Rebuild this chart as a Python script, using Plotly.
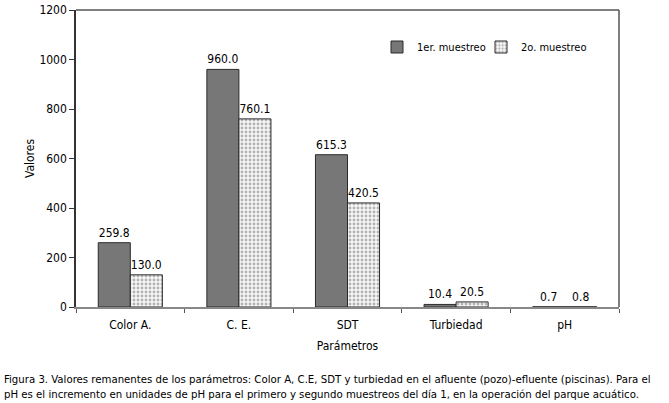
import plotly.graph_objects as go

categories = ["Color A.", "C. E.", "SDT", "Turbiedad", "pH"]
muestreo1 = [259.8, 960.0, 615.3, 10.4, 0.7]
muestreo2 = [130.0, 760.1, 420.5, 20.5, 0.8]
series_names = ["1er. muestreo", "2o. muestreo"]
y_ticks = [0, 200, 400, 600, 800, 1000, 1200]
caption = ("Figura 3. Valores remanentes de los parámetros: Color A, C.E, SDT y turbiedad en el afluente (pozo)-efluente (piscinas). Para el<br>"
           "pH es el incremento en unidades de pH para el primero y segundo muestreos del día 1, en la operación del parque acuático.")

FONT = "DejaVu Sans Condensed, Liberation Sans Narrow, sans-serif"

fig = go.Figure()
fig.add_trace(go.Bar(
    x=categories, y=muestreo1, name=series_names[0], legend="legend",
    marker=dict(color="#777777", line=dict(color="#2a2a2a", width=1)),
    text=[f"{v:.1f}" for v in muestreo1], textposition="outside",
    textfont=dict(size=12, color="black", family=FONT), cliponaxis=False,
))
fig.add_trace(go.Bar(
    x=categories, y=muestreo2, name=series_names[1], legend="legend2",
    marker=dict(color="#f4f4f4", line=dict(color="#2a2a2a", width=1),
                pattern=dict(shape=".", fgcolor="#707070", bgcolor="#f6f6f6", size=4, solidity=0.4)),
    text=[f"{v:.1f}" for v in muestreo2], textposition="outside",
    textfont=dict(size=12, color="black", family=FONT), cliponaxis=False,
))

leg_common = dict(orientation="h", y=(307 - 47) / 297, xanchor="left", yanchor="middle",
                  font=dict(size=11, family=FONT), bgcolor="rgba(0,0,0,0)", itemwidth=30)

fig.update_layout(
    width=669, height=403,
    margin=dict(l=76, r=50, t=10, b=96, autoexpand=False),
    paper_bgcolor="white", plot_bgcolor="white",
    barmode="group", bargap=0.41, bargroupgap=0,
    font=dict(family=FONT, size=12, color="black"),
    showlegend=True,
    legend=dict(x=(377 - 76) / 543, **leg_common),
    legend2=dict(x=(481 - 76) / 543, **leg_common),
    xaxis=dict(
        showline=True, linecolor="#888888", linewidth=1.5, automargin=False,
        ticks="outside", tickson="boundaries", ticklen=4, tickcolor="#555555",
        showgrid=False, tickfont=dict(size=12), ticklabelstandoff=6,
        title=dict(text="Parámetros", font=dict(size=12), standoff=10),
    ),
    yaxis=dict(
        range=[0, 1200], tickvals=y_ticks, showline=True, linecolor="#333333", linewidth=1.5,
        automargin=False,
        ticks="outside", ticklen=5, tickcolor="#333333", showgrid=False, zeroline=False,
        tickfont=dict(size=12),
        title=dict(text="Valores", font=dict(size=12), standoff=2),
    ),
    shapes=[
        dict(type="line", xref="paper", yref="paper", x0=0, x1=1, y0=1, y1=1,
             line=dict(color="#555555", width=1.5)),
        dict(type="line", xref="paper", yref="paper", x0=1, x1=1, y0=0, y1=1,
             line=dict(color="#555555", width=1.5)),
    ],
    annotations=[
        dict(text=caption, xref="paper", yref="paper", x=-74/543, y=-(387-307)/297,
             xanchor="left", yanchor="middle", align="left", showarrow=False,
             font=dict(size=11.3, family=FONT, color="black")),
    ],
)

fig.write_html("out.html", config={"displayModeBar": False},
               post_script="document.body.style.margin='0';")
